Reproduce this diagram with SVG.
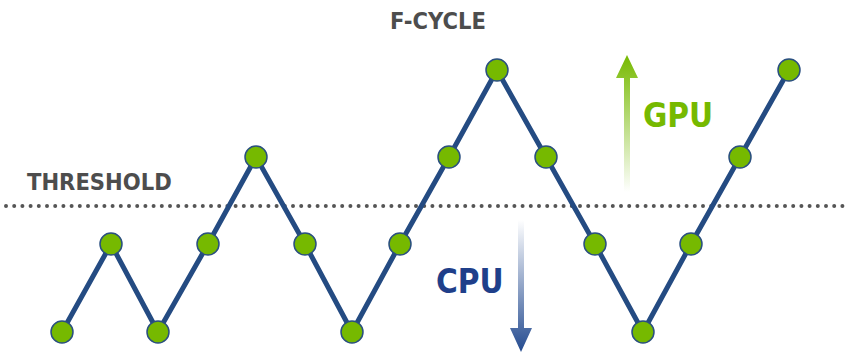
<svg xmlns="http://www.w3.org/2000/svg" width="849" height="353" viewBox="0 0 849 353">
<style>
.lbl{font-family:"DejaVu Sans Condensed","DejaVu Sans","Liberation Sans",sans-serif;font-stretch:condensed;font-weight:bold;fill:#4d4d4d;font-size:23.5px}
.big{font-family:"DejaVu Sans Condensed","DejaVu Sans","Liberation Sans",sans-serif;font-stretch:condensed;font-weight:bold;font-size:33px}
.node{fill:#76b900;stroke:#2a4f80;stroke-width:1.5}
.edge{fill:none;stroke:#244b82;stroke-width:5;stroke-linejoin:round}
</style>
<defs>
<linearGradient id="gg" x1="0" y1="1" x2="0" y2="0">
<stop offset="0" stop-color="#76b900" stop-opacity="0"/>
<stop offset="1" stop-color="#76b900" stop-opacity="1"/>
</linearGradient>
<linearGradient id="bg" x1="0" y1="0" x2="0" y2="1">
<stop offset="0" stop-color="#244b90" stop-opacity="0"/>
<stop offset="1" stop-color="#244b90" stop-opacity="1"/>
</linearGradient>
</defs>
<rect width="849" height="353" fill="#ffffff"/>
<text class="lbl" x="438" y="29" text-anchor="middle">F-CYCLE</text>
<text class="lbl" x="27" y="190">THRESHOLD</text>
<line x1="6" y1="206" x2="846" y2="206" stroke="#555" stroke-width="4" stroke-linecap="round" stroke-dasharray="0 8.2"/>
<g id="gpu-arrow">
<path d="M624 192 L624 78 L616 78 L627 55 L638 78 L630 78 L630 192 Z" fill="url(#gg)"/>
<text class="big" x="643" y="127" fill="#76b900">GPU</text>
</g>
<g id="cpu-arrow">
<path d="M518 220 L518 328 L510 328 L521 352 L532 328 L524 328 L524 220 Z" fill="url(#bg)"/>
<text class="big" x="436" y="293" fill="#1f3f8a">CPU</text>
</g>
<g id="connectors">
<polyline class="edge" points="62,332 111,244 158,332 208,244 256,157 305,244 352,332 400,244 449,157 497,70 546,157 595,244 643,332 691,244 740,157 789,70"/>
</g>
<g id="n1"><circle class="node" cx="62" cy="332" r="11"/></g>
<g id="n2"><circle class="node" cx="111" cy="244" r="11"/></g>
<g id="n3"><circle class="node" cx="158" cy="332" r="11"/></g>
<g id="n4"><circle class="node" cx="208" cy="244" r="11"/></g>
<g id="n5"><circle class="node" cx="256" cy="157" r="11"/></g>
<g id="n6"><circle class="node" cx="305" cy="244" r="11"/></g>
<g id="n7"><circle class="node" cx="352" cy="332" r="11"/></g>
<g id="n8"><circle class="node" cx="400" cy="244" r="11"/></g>
<g id="n9"><circle class="node" cx="449" cy="157" r="11"/></g>
<g id="n10"><circle class="node" cx="497" cy="70" r="11"/></g>
<g id="n11"><circle class="node" cx="546" cy="157" r="11"/></g>
<g id="n12"><circle class="node" cx="595" cy="244" r="11"/></g>
<g id="n13"><circle class="node" cx="643" cy="332" r="11"/></g>
<g id="n14"><circle class="node" cx="691" cy="244" r="11"/></g>
<g id="n15"><circle class="node" cx="740" cy="157" r="11"/></g>
<g id="n16"><circle class="node" cx="789" cy="70" r="11"/></g>
</svg>
